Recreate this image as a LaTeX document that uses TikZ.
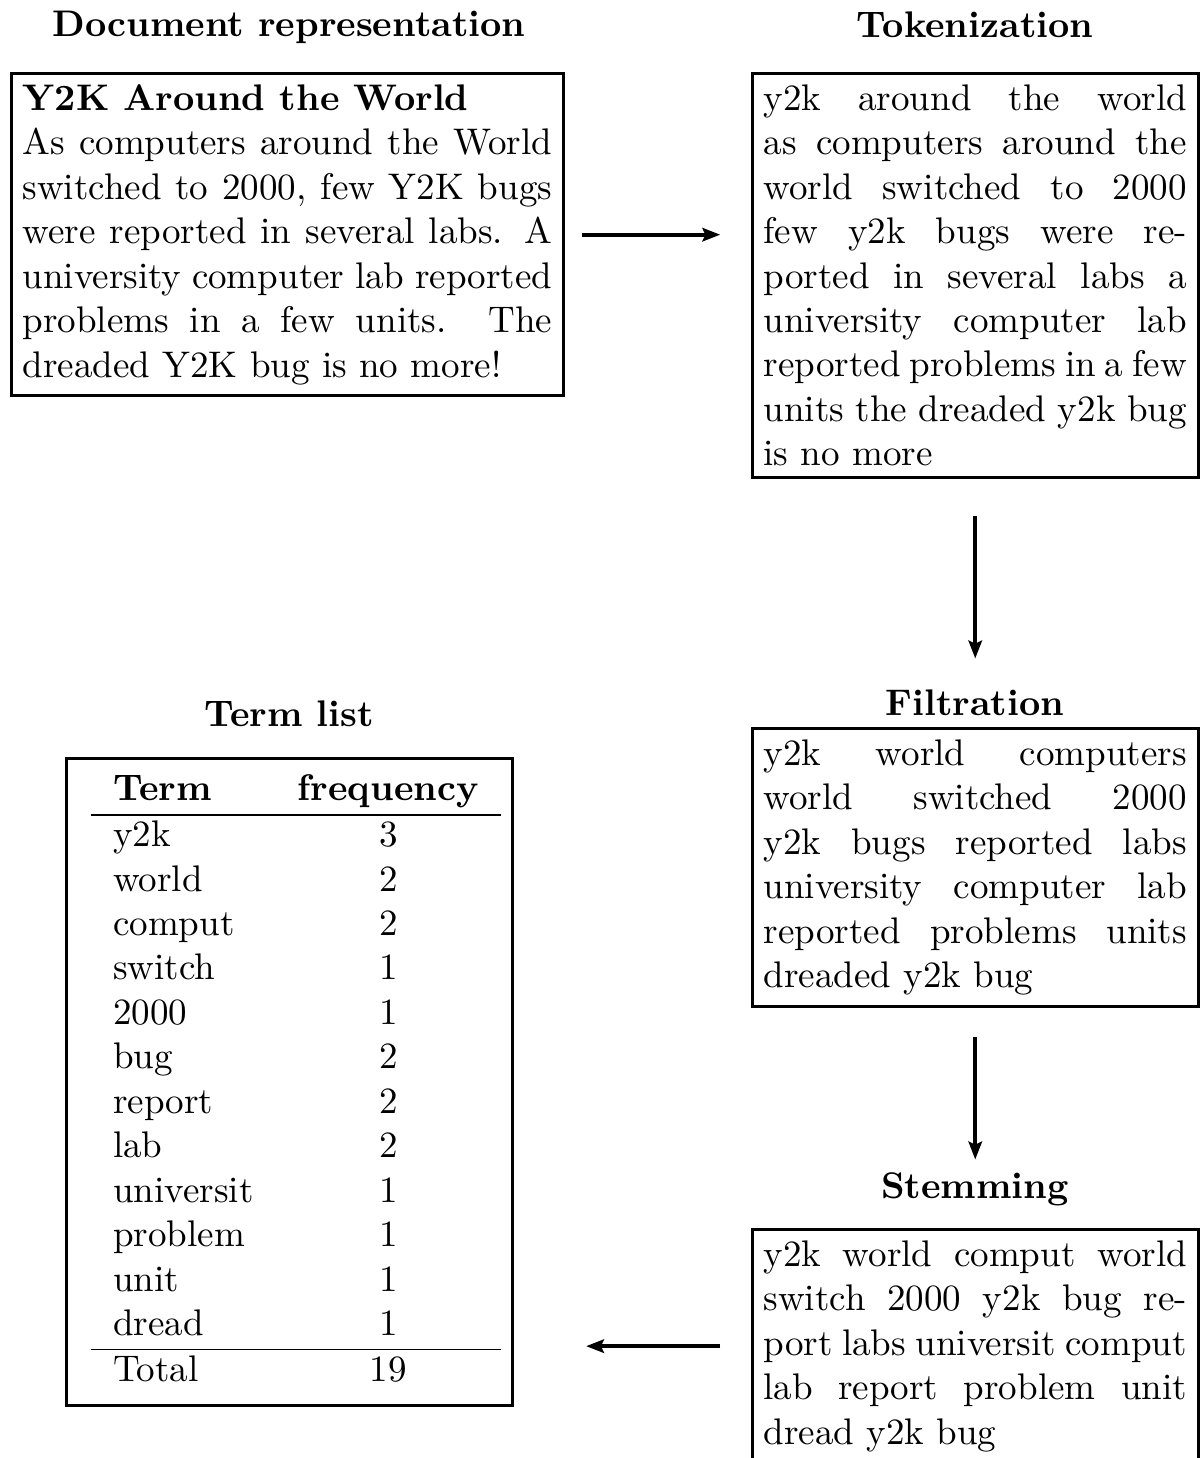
\documentclass[tikz,border=0pt]{standalone}
\usepackage{tikz}
\usetikzlibrary{positioning,calc,arrows.meta}
\tikzset{>={Stealth[length=4.8pt,width=3.6pt,inset=0.8pt]}}

\begin{document}
\begin{tikzpicture}[x=0.27pt,y=0.27pt,
  box/.style={draw,line width=0.8pt,inner sep=3pt,text width=114.3pt,align=justify,anchor=north west},
  title/.style={font=\bfseries,anchor=base},
  arr/.style={->,line width=1.1pt}]
\useasboundingbox (0,0) rectangle (1204,-1458);
% the document
\node[title] (docT) at (289,-36) {Document representation};
\node[box,text width=143pt] (doc) at (10,-72) {\textbf{Y2K Around the World}\\
  As computers around the World switched to 2000, few Y2K bugs were reported in several labs. A university computer lab reported problems in a few units. The dreaded Y2K bug is no more!};
% tokens
\node[title] (tokT) at (975,-37) {Tokenization};
\node[box] (tok) at (751,-72) {y2k around the world as computers around the world switched to 2000\linebreak few y2k bugs were reported in several labs a university computer lab reported problems in a few units the dreaded y2k bug is no more};
% filtered
\node[title] (filtT) at (975,-715) {Filtration};
\node[box] (filt) at (751,-727) {y2k world computers world switched 2000 y2k bugs reported labs university computer lab reported problems units dreaded y2k bug};
% stemmed
\node[title] (stemT) at (975,-1198) {Stemming};
\node[box] (stem) at (751,-1228) {y2k world comput world switch 2000 y2k bug report labs universit comput lab report problem unit dread y2k bug};
% terms
\node[title] (termT) at (289,-726) {Term list};
\node[box,align=right] (term) at (65,-757) {\begin{tabular}{lc}
  \textbf{Term} & \textbf{frequency} \\ \hline
  y2k & 3 \\
  world & 2 \\
  comput & 2 \\
  switch & 1 \\
  2000 & 1 \\
  bug & 2 \\
  report & 2 \\
  lab & 2 \\
  universit & 1 \\
  problem & 1 \\
  unit & 1 \\
  dread & 1 \\ \hline
  Total & 19
\end{tabular}};

\draw[arr,shorten <=4.6pt,shorten >=8.3pt] (doc) -- (doc -| tok.west);
\draw[arr,shorten <=9.9pt,shorten >=18.5pt] (tok) -- (filt);
\draw[arr,shorten <=8pt,shorten >=18.5pt] (filt) -- (stem);
\draw[arr,shorten <=8.3pt,shorten >=19.6pt] (stem) -- (stem -| term.east);
\end{tikzpicture}
\end{document}
